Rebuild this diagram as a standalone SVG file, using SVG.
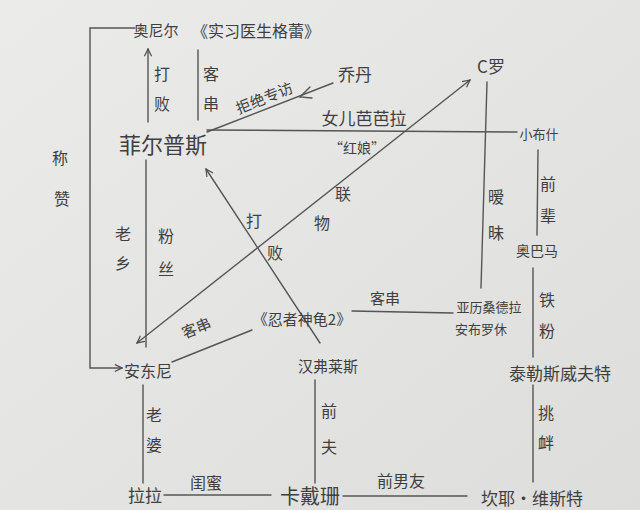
<svg xmlns="http://www.w3.org/2000/svg" width="640" height="510" viewBox="0 0 640 510">
<defs>
<linearGradient id="paper" x1="0" y1="0" x2="1" y2="1">
<stop offset="0" stop-color="#ebebe9"/>
<stop offset="1" stop-color="#dddddb"/>
</linearGradient>
<marker id="arr" viewBox="0 0 10 10" refX="9" refY="5" markerWidth="9" markerHeight="9" orient="auto-start-reverse" markerUnits="userSpaceOnUse">
<path d="M1,1 L9,5 L1,9" fill="none" stroke="#4a4a4a" stroke-width="1.3"/>
</marker>
<style>
.ln{fill:none;stroke:#555;stroke-width:1.4;stroke-linecap:round}
text{font-family:"Noto Sans CJK SC","Noto Sans",sans-serif;fill:#3f3f3f;text-anchor:middle;dominant-baseline:central}
.s12{font-size:12px}.s13{font-size:13px}.s14{font-size:14px}.s15{font-size:15px}.s16{font-size:16px}.s17{font-size:17px}.s18{font-size:18px}.s20{font-size:20px}.s22{font-size:22px}
</style>
</defs>
<rect width="640" height="510" fill="url(#paper)"/>

<g id="connectors">
<path class="ln" d="M135,28 H90 V368 H122" marker-end="url(#arr)"/>
<path class="ln" d="M148,122 V49" marker-end="url(#arr)"/>
<path class="ln" d="M198,50 V120"/>
<path class="ln" d="M333,83 L207,132"/>
<path class="ln" d="M310,87 L300,97 L312,98"/>
<path class="ln" d="M207,130 L517,132"/>
<path class="ln" d="M137,343 L470,80" marker-start="url(#arr)" marker-end="url(#arr)"/>
<path class="ln" d="M487,82 L481,288"/>
<path class="ln" d="M538,150 L537,235"/>
<path class="ln" d="M533,268 V357"/>
<path class="ln" d="M533,385 V482"/>
<path class="ln" d="M146,160 V347"/>
<path class="ln" d="M320,343 L206,169" marker-end="url(#arr)"/>
<path class="ln" d="M172,362 L252,330"/>
<path class="ln" d="M352,311 L453,313"/>
<path class="ln" d="M143,385 V483"/>
<path class="ln" d="M315,380 V483"/>
<path class="ln" d="M164,495 H271"/>
<path class="ln" d="M343,496 H467"/>

<text class="s16" x="60" y="157">称</text>
<text class="s16" x="62" y="198">赞</text>
<text class="s16" x="162" y="73">打</text>
<text class="s16" x="162" y="103">败</text>
<text class="s16" x="211" y="73">客</text>
<text class="s16" x="211" y="103">串</text>
<text class="s15" x="264" y="97" transform="rotate(-22 264 97)">拒绝专访</text>
<text class="s17" x="364" y="117">女儿芭芭拉</text>
<text class="s14" x="357" y="147">“红娘”</text>
<text class="s16" x="343" y="193">联</text>
<text class="s16" x="322" y="222">物</text>
<text class="s16" x="254" y="220">打</text>
<text class="s16" x="275" y="252">败</text>
<text class="s16" x="123" y="233">老</text>
<text class="s16" x="123" y="262">乡</text>
<text class="s16" x="166" y="235">粉</text>
<text class="s16" x="166" y="268">丝</text>
<text class="s16" x="496" y="196">暧</text>
<text class="s16" x="496" y="232">昧</text>
<text class="s16" x="548" y="183">前</text>
<text class="s16" x="548" y="215">辈</text>
<text class="s16" x="547" y="299">铁</text>
<text class="s16" x="547" y="330">粉</text>
<text class="s16" x="546" y="412">挑</text>
<text class="s16" x="546" y="442">衅</text>
<text class="s15" x="196" y="327" transform="rotate(-22 196 327)">客串</text>
<text class="s15" x="385" y="297">客串</text>
<text class="s16" x="154" y="414">老</text>
<text class="s16" x="154" y="444">婆</text>
<text class="s16" x="329" y="410">前</text>
<text class="s16" x="329" y="446">夫</text>
<text class="s16" x="206" y="482">闺蜜</text>
<text class="s16" x="401" y="480">前男友</text>
</g>

<g id="n-oneal"><text class="s15" x="156" y="29">奥尼尔</text></g>
<g id="n-greys"><text class="s16" x="256" y="30">《实习医生格蕾》</text></g>
<g id="n-phelps"><text class="s22" x="163" y="143">菲尔普斯</text></g>
<g id="n-jordan"><text class="s17" x="355" y="73">乔丹</text></g>
<g id="n-cr"><text class="s17" x="491" y="65">C罗</text></g>
<g id="n-bush"><text class="s13" x="539" y="133">小布什</text></g>
<g id="n-obama"><text class="s14" x="537" y="250">奥巴马</text></g>
<g id="n-taylor"><text class="s17" x="560" y="372">泰勒斯威夫特</text></g>
<g id="n-ambrosio"><text class="s13" x="489" y="306">亚历桑德拉</text><text class="s13" x="481" y="328">安布罗休</text></g>
<g id="n-tmnt"><text class="s15" x="302" y="318">《忍者神龟2》</text></g>
<g id="n-anthony"><text class="s16" x="148" y="370">安东尼</text></g>
<g id="n-humphries"><text class="s15" x="328" y="365">汉弗莱斯</text></g>
<g id="n-lala"><text class="s17" x="145" y="494">拉拉</text></g>
<g id="n-kardashian"><text class="s20" x="310" y="495">卡戴珊</text></g>
<g id="n-kanye"><text class="s17" x="532" y="497">坎耶·维斯特</text></g>
</svg>
